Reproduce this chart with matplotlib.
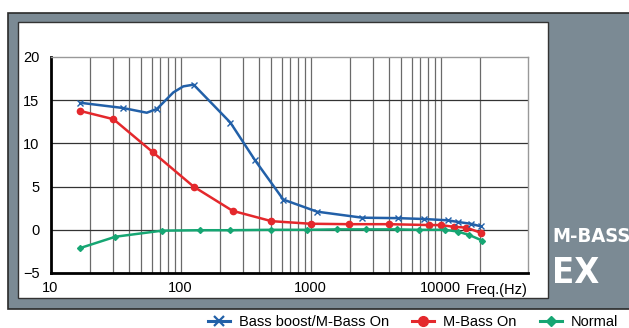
import matplotlib.pyplot as plt
from matplotlib.patches import Rectangle

# frequencies (Hz) and levels (dB)
boost_f = [17, 36, 55, 66, 88, 105, 126, 242, 372, 617, 1120, 2500, 4700, 7400, 11300, 13700, 17000, 20400]
boost_db = [14.7, 14.1, 13.55, 14.0, 15.9, 16.6, 16.8, 12.4, 8.1, 3.5, 2.1, 1.4, 1.35, 1.25, 1.1, 0.9, 0.7, 0.4]
boost_mark = [True, True, False, True, False, False, True, True, True, True, True, True, True, True, True, True, True, True]

mbass_f = [17, 30.5, 61, 126, 251, 500, 1000, 1960, 3980, 8100, 10000, 12600, 15800, 20400]
mbass_db = [13.75, 12.8, 9.0, 5.0, 2.2, 1.0, 0.7, 0.65, 0.65, 0.55, 0.55, 0.35, 0.25, -0.35]

normal_f = [17, 31.6, 72, 142, 240, 500, 940, 1600, 2650, 4600, 6800, 10800, 13500, 16600, 20900]
normal_db = [-2.1, -0.8, -0.1, -0.05, -0.05, 0.0, 0.0, 0.05, 0.05, 0.05, 0.0, 0.0, -0.2, -0.6, -1.25]

blue = '#2260a8'
red = '#e4282c'
green = '#16a673'

plt.rcParams['font.family'] = ['Liberation Sans', 'DejaVu Sans']
fig = plt.figure(figsize=(6.29, 3.28), dpi=100)

# gray frame and white panel behind the chart
fig.patches.append(Rectangle((8 / 629, 1 - 309 / 328), 1, 296 / 328, transform=fig.transFigure,
                             facecolor='#7b8a94', edgecolor='#2a2a2a', lw=1.2, zorder=-2))
fig.patches.append(Rectangle((18 / 629, 1 - 298 / 328), 530 / 629, 276 / 328, transform=fig.transFigure,
                             facecolor='white', edgecolor='#333333', lw=1.0, zorder=-1))

ax = fig.add_axes([50.5 / 629, 1 - 273 / 328, 477.5 / 629, 216 / 328])
ax.set_zorder(2)
ax.set_facecolor('none')
ax.set_xscale('log')
ax.set_xlim(10, 47000)
ax.set_ylim(-5, 20)

grid_x = [m * d for d in (10, 100, 1000) for m in range(2, 10)] + [100, 1000, 10000, 20000]
for g in grid_x:
    ax.axvline(g, color='#6a6a6a', lw=0.9, zorder=1)
for g in (0, 5, 10, 15):
    ax.axhline(g, color='#333333', lw=0.9, zorder=1)

bf = [f for f, m in zip(boost_f, boost_mark) if m]
bd = [d for d, m in zip(boost_db, boost_mark) if m]
ax.plot(boost_f, boost_db, color=blue, lw=1.8, zorder=3, solid_joinstyle='round')
ax.plot(bf, bd, ls='none', marker='x', ms=4, mew=1.0, color=blue, zorder=4)
ax.plot(mbass_f, mbass_db, color=red, lw=1.8, marker='o', ms=4.5, zorder=3, solid_joinstyle='round')
ax.plot(normal_f, normal_db, color=green, lw=1.8, marker='D', ms=3, zorder=3, solid_joinstyle='round')

ax.set_yticks([-5, 0, 5, 10, 15, 20])
ax.set_xticks([10, 100, 1000, 10000])
ax.set_xticklabels(['10', '100', '1000', '10000'])
ax.minorticks_off()
ax.tick_params(length=0, labelsize=10.5, pad=6)
ax.tick_params(axis='y', pad=8)
for s in ('top', 'right'):
    ax.spines[s].set_color('#999999')
    ax.spines[s].set_linewidth(1.0)
for s in ('left', 'bottom'):
    ax.spines[s].set_color('black')
    ax.spines[s].set_linewidth(2.0)
ax.text(1.0, -0.045, 'Freq.(Hz)', transform=ax.transAxes, ha='right', va='top', fontsize=10.5)

fig.text(552 / 629, 1 - 237 / 328, 'M-BASS', family='DejaVu Sans', stretch='condensed',
         weight='bold', fontsize=14.5, color='white', ha='left', va='center')
fig.text(552 / 629, 1 - 273 / 328, 'EX', family='DejaVu Sans', stretch='condensed',
         weight='bold', fontsize=26, color='white', ha='left', va='center')

# legend below the frame
h1, = ax.plot([], [], color=blue, lw=2.2, marker='x', ms=7, mew=1.6)
h2, = ax.plot([], [], color=red, lw=2.2, marker='o', ms=7)
h3, = ax.plot([], [], color=green, lw=2.2, marker='D', ms=5)
fig.legend([h1, h2, h3], ['Bass boost/M-Bass On', 'M-Bass On', 'Normal'],
           loc='center', bbox_to_anchor=(413 / 629, 1 - 322 / 328), ncol=3, frameon=False,
           fontsize=10.5, handlelength=1.5, handletextpad=0.6, columnspacing=1.6,
           borderpad=0, borderaxespad=0)

fig.savefig('out.png', dpi=100)
